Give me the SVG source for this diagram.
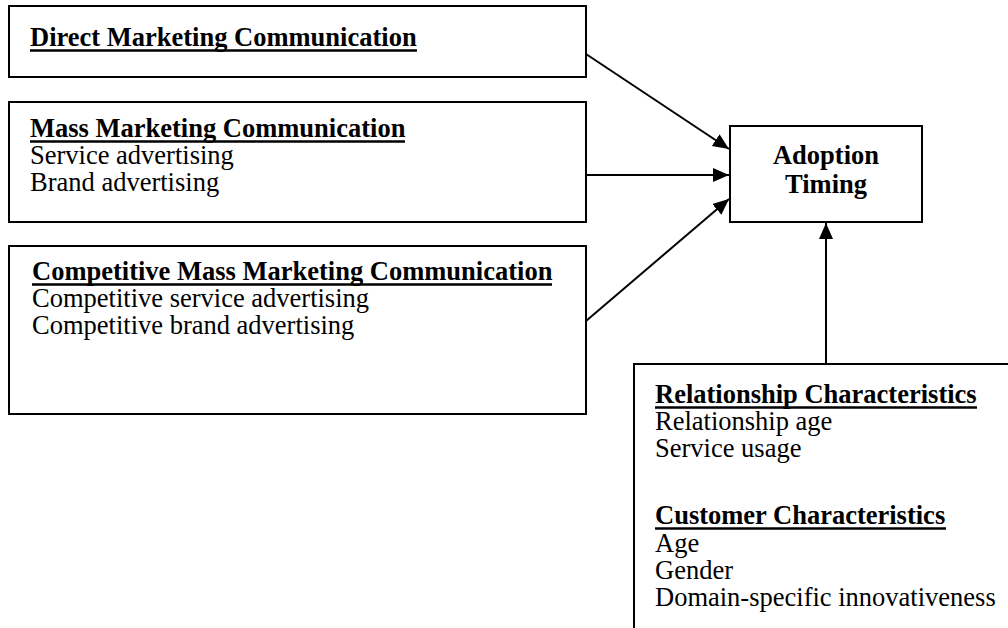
<svg xmlns="http://www.w3.org/2000/svg" width="1008" height="628" viewBox="0 0 1008 628">
  <style>
    .box { fill: #ffffff; stroke: #000000; stroke-width: 2; }
    .t { font-family: "Liberation Serif", "Times New Roman", serif; font-size: 26.5px; fill: #000000; }
    .b { font-weight: bold; }
    .ul { stroke: #000000; stroke-width: 2.6; }
    .link { stroke: #000000; stroke-width: 2; fill: none; marker-end: url(#arrow); }
  </style>
  <defs>
    <marker id="arrow" markerUnits="userSpaceOnUse" markerWidth="18" markerHeight="16" refX="16" refY="7" orient="auto">
      <path d="M0,0 L16,7 L0,14 Z" fill="#000000"/>
    </marker>
  </defs>
  <rect width="1008" height="628" fill="#ffffff"/>

  <g id="connectors">
    <line class="link" x1="586" y1="54" x2="729" y2="149"/>
    <line class="link" x1="586" y1="175" x2="729" y2="175"/>
    <line class="link" x1="586" y1="321" x2="729" y2="199"/>
    <line class="link" x1="826" y1="364" x2="826" y2="223"/>
  </g>

  <g id="direct-marketing">
    <rect class="box" x="9" y="6" width="577" height="71"/>
    <text class="t b" x="30" y="46">Direct Marketing Communication</text>
    <line class="ul" x1="30" y1="50.5" x2="417" y2="50.5"/>
  </g>

  <g id="mass-marketing">
    <rect class="box" x="9" y="102" width="577" height="120"/>
    <text class="t b" x="30" y="137">Mass Marketing Communication</text>
    <line class="ul" x1="30" y1="141.5" x2="405" y2="141.5"/>
    <text class="t" x="30" y="164">Service advertising</text>
    <text class="t" x="30" y="191">Brand advertising</text>
  </g>

  <g id="competitive-mass-marketing">
    <rect class="box" x="9" y="246" width="577" height="168"/>
    <text class="t b" x="32" y="280">Competitive Mass Marketing Communication</text>
    <line class="ul" x1="32" y1="284.5" x2="552" y2="284.5"/>
    <text class="t" x="32" y="307">Competitive service advertising</text>
    <text class="t" x="32" y="334">Competitive brand advertising</text>
  </g>

  <g id="adoption-timing">
    <rect class="box" x="730" y="126" width="192" height="96"/>
    <text class="t b" x="826" y="164" text-anchor="middle">Adoption</text>
    <text class="t b" x="826" y="193" text-anchor="middle">Timing</text>
  </g>

  <g id="characteristics">
    <rect class="box" x="634" y="364" width="384" height="280"/>
    <text class="t b" x="655" y="403">Relationship Characteristics</text>
    <line class="ul" x1="655" y1="407.5" x2="977" y2="407.5"/>
    <text class="t" x="655" y="430">Relationship age</text>
    <text class="t" x="655" y="457">Service usage</text>
    <text class="t b" x="655" y="524">Customer Characteristics</text>
    <line class="ul" x1="655" y1="528.5" x2="946" y2="528.5"/>
    <text class="t" x="655" y="552">Age</text>
    <text class="t" x="655" y="579">Gender</text>
    <text class="t" x="655" y="606">Domain-specific innovativeness</text>
  </g>
</svg>
